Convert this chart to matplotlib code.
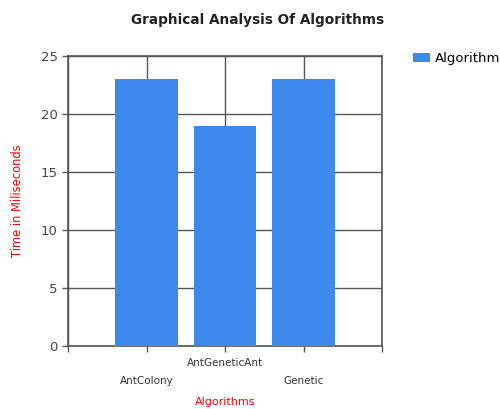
import matplotlib.pyplot as plt

# data
algorithms = ["AntColony", "AntGeneticAnt", "Genetic"]
times_ms = [23, 19, 23]
y_ticks = [0, 5, 10, 15, 20, 25]

bar_color = "#3d88ea"
line_color = "#555555"

fig = plt.figure(figsize=(5.0, 4.09), dpi=100)
ax = fig.add_axes([68 / 500, 1 - 346 / 409, 314 / 500, 290 / 409])

pos = [i + 1 for i in range(len(algorithms))]
ax.bar(pos, times_ms, width=0.8, color=bar_color, label="Algorithm", zorder=3)

ax.set_xlim(0, len(algorithms) + 1)
ax.set_ylim(0, 25)
ax.set_yticks(y_ticks)
ax.set_xticks([0] + pos + [len(algorithms) + 1])
# staggered category labels like the original
labels = [""]
for i, name in enumerate(algorithms):
    labels.append(name if i % 2 == 1 else "\n" + name)
labels.append("")
ax.set_xticklabels(labels, fontsize=7.5, color="#333333", linespacing=1.95)

ax.grid(True, color=line_color, linewidth=1.0, zorder=0)
for s in ax.spines.values():
    s.set_color(line_color)
    s.set_linewidth(1.2)
ax.tick_params(axis="y", labelsize=9.5, colors="#444444", length=4, width=1, color=line_color)
ax.tick_params(axis="x", length=4, width=1, color=line_color, pad=5)

ax.set_xlabel("Algorithms", color="red", fontsize=8, labelpad=8)
ax.set_ylabel("Time in Miliseconds", color="red", fontsize=8.3, labelpad=12)

fig.text(0.515, 0.95, "Graphical Analysis Of Algorithms", ha="center",
         va="center", fontsize=9.8, fontweight="bold", color="#222222")

fig.legend(loc="upper left", bbox_to_anchor=(408 / 500, 1 - 47 / 409),
           frameon=False, fontsize=9.5, handlelength=1.3, handleheight=0.7,
           handletextpad=0.35, borderaxespad=0)

fig.savefig("out.png", dpi=100)
